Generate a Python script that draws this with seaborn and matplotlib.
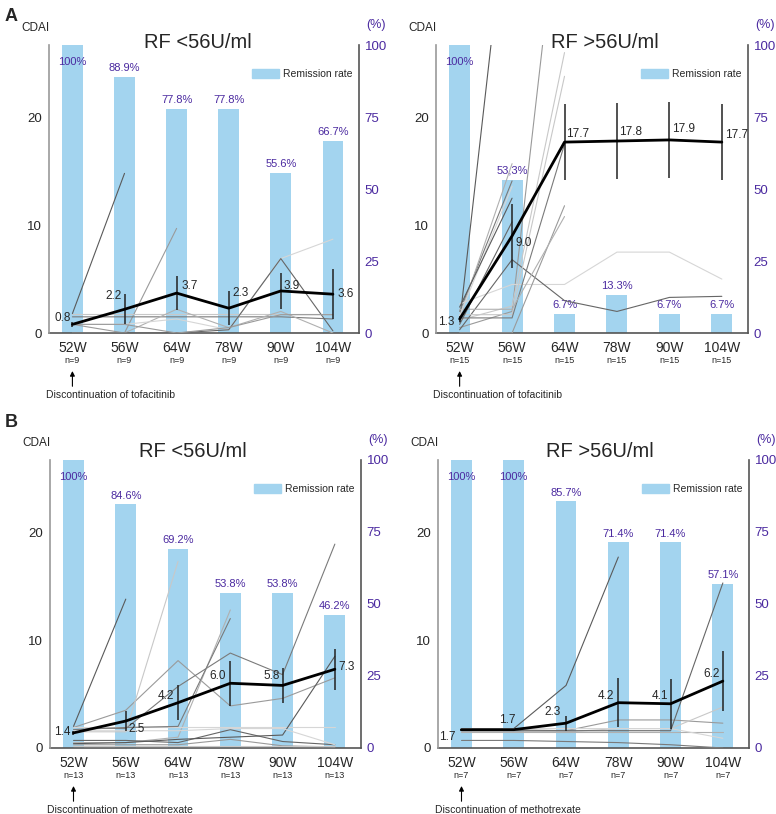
import numpy as np
import pandas as pd
import matplotlib
matplotlib.use("Agg")
import matplotlib.pyplot as plt
import seaborn as sns
from matplotlib.patches import Patch
from matplotlib.transforms import blended_transform_factory

sns.set_style("white")
plt.rcParams['font.family'] = ['Liberation Sans', 'DejaVu Sans']

nan = np.nan
weeks = ["52W", "56W", "64W", "78W", "90W", "104W"]

# ---- A: tofacitinib, RF <56 ----
a_low_n = 9
a_low_remission = [100, 88.9, 77.8, 77.8, 55.6, 66.7]
a_low_mean = [0.8, 2.2, 3.7, 2.3, 3.9, 3.6]
a_low_err = [0.2, 1.4, 1.6, 1.6, 1.7, 2.3]
a_low_patients = [
    [1.8, 14.8, nan, nan, nan, nan],
    [0.8, 0.0, 9.7, nan, nan, nan],
    [1.8, 1.8, 1.8, 1.8, 1.8, 1.8],
    [1.5, 1.5, 1.5, 1.5, 1.5, 1.3],
    [0.0, 0.0, 2.2, 0.5, 2.0, 0.0],
    [0.8, 0.8, 1.3, 0.3, 6.9, 8.7],
    [0.0, 0.0, 0.0, 0.3, 6.9, 0.2],
    [0.0, 0.0, 0.0, 0.0, 0.0, 0.0],
    [0.8, 0.8, 0.0, 0.5, 1.7, 1.7],
]

# ---- A: tofacitinib, RF >56 ----
a_high_n = 15
a_high_remission = [100, 53.3, 6.7, 13.3, 6.7, 6.7]
a_high_mean = [1.3, 9.0, 17.7, 17.8, 17.9, 17.7]
a_high_err = [0.3, 3.0, 3.5, 3.5, 3.5, 3.5]
a_high_patients = [
    [1.0, 44.0, nan, nan, nan, nan],
    [0.5, 2.0, 44.5, nan, nan, nan],
    [1.2, 2.5, 26.0, nan, nan, nan],
    [2.0, 14.1, nan, nan, nan, nan],
    [1.5, 15.7, nan, nan, nan, nan],
    [2.7, 4.5, 4.5, 7.5, 7.5, 5.0],
    [0.3, 6.8, 3.0, 2.0, 3.3, 3.4],
    [0.0, 0.0, 0.0, 0.0, 0.0, 0.0],
    [0.0, 0.0, 11.8, nan, nan, nan],
    [1.7, 1.7, 23.8, nan, nan, nan],
    [1.4, 1.4, 17.5, nan, nan, nan],
    [2.2, 2.2, 10.8, nan, nan, nan],
    [1.6, 13.6, nan, nan, nan, nan],
    [0.8, 10.3, nan, nan, nan, nan],
    [2.4, 12.5, nan, nan, nan, nan],
]

# ---- B: methotrexate, RF <56 ----
b_low_n = 13
b_low_remission = [100, 84.6, 69.2, 53.8, 53.8, 46.2]
b_low_mean = [1.4, 2.5, 4.2, 6.0, 5.8, 7.3]
b_low_err = [0.15, 0.9, 1.65, 2.1, 1.65, 1.9]
b_low_patients = [
    [2.0, 13.8, nan, nan, nan, nan],
    [1.9, 3.5, 8.1, 3.9, 4.6, 6.5],
    [1.5, 1.5, 17.3, nan, nan, nan],
    [1.9, 1.8, 5.7, 8.8, 6.8, 18.9],
    [0.5, 0.5, 1.0, 12.8, nan, nan],
    [1.9, 1.9, 1.9, 1.9, 1.9, 1.9],
    [0.7, 0.7, 0.5, 1.7, 0.6, 0.3],
    [0.4, 0.5, 0.8, 1.0, 1.2, 8.5],
    [0.3, 0.3, 0.3, 0.8, 0.2, 0.1],
    [0.2, 0.2, 0.2, 0.2, 0.2, 0.2],
    [1.7, 1.9, 2.0, 12.0, nan, nan],
    [0.0, 0.0, 0.0, 0.0, 0.0, 0.0],
    [1.6, 1.6, 1.6, 1.8, 1.8, 0.3],
]

# ---- B: methotrexate, RF >56 ----
b_high_n = 7
b_high_remission = [100, 100, 85.7, 71.4, 71.4, 57.1]
b_high_mean = [1.7, 1.7, 2.3, 4.2, 4.1, 6.2]
b_high_err = [0.1, 0.1, 0.7, 2.3, 2.3, 2.8]
b_high_patients = [
    [1.8, 1.8, 5.8, 17.7, nan, nan],
    [1.7, 1.7, 1.6, 2.6, 2.6, 2.3],
    [1.5, 1.5, 1.5, 1.8, 1.8, 3.8],
    [0.7, 0.7, 0.6, 0.5, 0.3, 0.0],
    [1.5, 1.5, 1.5, 1.5, 1.5, 1.5],
    [1.8, 1.8, 1.8, 1.8, 1.8, 0.9],
    [1.6, 1.6, 1.6, 1.6, 1.6, 15.3],
]

BLUE = "#A3D4EF"
PURPLE = "#4B2AA0"
GRAYS = ["#5a5a5a", "#9a9a9a", "#c8c8c8", "#7a7a7a", "#b0b0b0", "#d6d6d6", "#666666"]


def draw_panel(rect, remission, means, errs, patients, n, drug, title, title_xy,
               label_offsets, pct_labels=None):
    ax = fig.add_axes(rect)
    pos = np.arange(len(weeks))

    # remission bars on the % scale (right axis)
    sns.barplot(x=weeks, y=remission, ax=ax, color=BLUE, saturation=1, width=0.4,
                linewidth=0)
    ax.set_ylim(0, 100)
    ax.set_xlim(-0.45, 5.5)
    ax.set_xlabel("")
    for sp in ["top", "left"]:
        ax.spines[sp].set_visible(False)
    ax.spines["right"].set_color("#555555")
    ax.spines["bottom"].set_color("#555555")
    ax.spines["right"].set_linewidth(1.2)
    ax.spines["bottom"].set_linewidth(1.2)
    if pct_labels is None:
        pct_labels = [f"{v:g}%" for v in remission]
    for i, (v, lab) in enumerate(zip(remission, pct_labels)):
        ax.text(i, min(v + 3, 94), lab, color=PURPLE, ha="center", va="center",
                fontsize=8)

    # CDAI on the left axis
    ax2 = ax.twinx()
    ax.yaxis.tick_right()
    ax2.yaxis.tick_left()
    ax.set_yticks([0, 25, 50, 75, 100])
    ax.tick_params(axis='y', colors=PURPLE, labelsize=9.5, length=0, pad=4)
    ax.tick_params(axis='x', length=0, labelsize=10, pad=6)
    ax2.set_ylim(0, 26.7)
    ax2.set_yticks([0, 10, 20])
    ax2.tick_params(axis='y', length=0, labelsize=9.5, pad=5)
    for sp in ["top", "right", "bottom"]:
        ax2.spines[sp].set_visible(False)
    ax2.spines["left"].set_color("#999999")
    ax2.spines["left"].set_linewidth(1.2)

    rows = []
    for pid, vals in enumerate(patients):
        for p, v in zip(pos, vals):
            rows.append({"pos": p, "cdai": v, "pid": pid})
    df = pd.DataFrame(rows).dropna()
    pal = {pid: GRAYS[pid % len(GRAYS)] for pid in df["pid"].unique()}
    sns.lineplot(data=df, x="pos", y="cdai", hue="pid", units="pid", estimator=None,
                 palette=pal, lw=0.8, legend=False, ax=ax2)
    ax2.errorbar(pos, means, yerr=errs, color="black", lw=2, ecolor="#222222",
                 elinewidth=1.1, capsize=0, zorder=5)
    ax2.set_xlabel("")
    ax2.set_ylabel("")
    ax2.set_xlim(-0.45, 5.5)

    for i, (m, (dx, dy, ha)) in enumerate(zip(means, label_offsets)):
        ax2.annotate(f"{m:.1f}", (i, m), xytext=(dx, dy), textcoords="offset pixels",
                     ha=ha, va="center", fontsize=8.5, zorder=6)

    trans = blended_transform_factory(ax.transData, ax.transAxes)
    for i in pos:
        ax.text(i, -0.095, f"n={n}", transform=trans, ha="center", va="center",
                fontsize=6.5)
    ax.annotate("", xy=(0, -0.132), xytext=(0, -0.185), xycoords=trans,
                textcoords=trans,
                arrowprops=dict(arrowstyle="-|>", color="black", lw=0.8,
                                mutation_scale=7, shrinkA=0, shrinkB=0))
    ax.text(-0.01, -0.215, f"Discontinuation of {drug}", transform=ax.transAxes,
            ha="left", va="center", fontsize=7.5)

    ax.text(-0.045, 1.06, "CDAI", transform=ax.transAxes, ha="center", va="center",
            fontsize=8.5)
    ax.text(1.055, 1.07, "(%)", transform=ax.transAxes, ha="center", va="center",
            fontsize=9, color=PURPLE)
    ax.text(title_xy[0], title_xy[1], title, transform=ax.transAxes, ha="center",
            va="center", fontsize=14.5)
    ax2.legend(handles=[Patch(color=BLUE, label="Remission rate")], loc="upper right",
               bbox_to_anchor=(1.0, 0.94), frameon=False, fontsize=7.5,
               handlelength=2.6, handleheight=1.0, borderaxespad=0.2,
               handletextpad=0.4)
    return ax, ax2


fig = plt.figure(figsize=(7.76, 8.14), dpi=100)

draw_panel([0.0631, 0.5909, 0.3995, 0.3538], a_low_remission, a_low_mean, a_low_err,
           a_low_patients, a_low_n, "tofacitinib", "RF <56U/ml", (0.48, 1.01),
           [(-2, 6, "right"), (-3, 13, "right"), (5, 7, "left"), (4, 15, "left"),
            (3, 5, "left"), (5, 0, "left")])
draw_panel([0.5619, 0.5909, 0.4021, 0.3538], a_high_remission, a_high_mean,
           a_high_err, a_high_patients, a_high_n, "tofacitinib", "RF >56U/ml",
           (0.54, 1.01),
           [(-5, -3, "right"), (3, -7, "left"), (2, 8, "left"), (2, 9, "left"),
            (3, 11, "left"), (3, 7, "left")],
           pct_labels=["100%", "53,3%", "6.7%", "13.3%", "6.7%", "6.7%"])
draw_panel([0.0644, 0.0811, 0.4008, 0.3538], b_low_remission, b_low_mean, b_low_err,
           b_low_patients, b_low_n, "methotrexate", "RF <56U/ml", (0.46, 1.03),
           [(-3, 1, "right"), (3, -8, "left"), (-4, 7, "right"), (-4, 7, "right"),
            (-3, 9, "right"), (4, 2, "left")])
draw_panel([0.5644, 0.0811, 0.4008, 0.3538], b_high_remission, b_high_mean,
           b_high_err, b_high_patients, b_high_n, "methotrexate", "RF >56U/ml",
           (0.52, 1.03),
           [(-6, -7, "right"), (-6, 10, "center"), (-5, 11, "right"),
            (-4, 7, "right"), (-2, 8, "right"), (-3, 7, "right")])

fig.text(0.006, 0.99, "A", fontsize=13, fontweight="bold", va="top", ha="left")
fig.text(0.006, 0.492, "B", fontsize=13, fontweight="bold", va="top", ha="left")

fig.savefig("out.png", dpi=100)
